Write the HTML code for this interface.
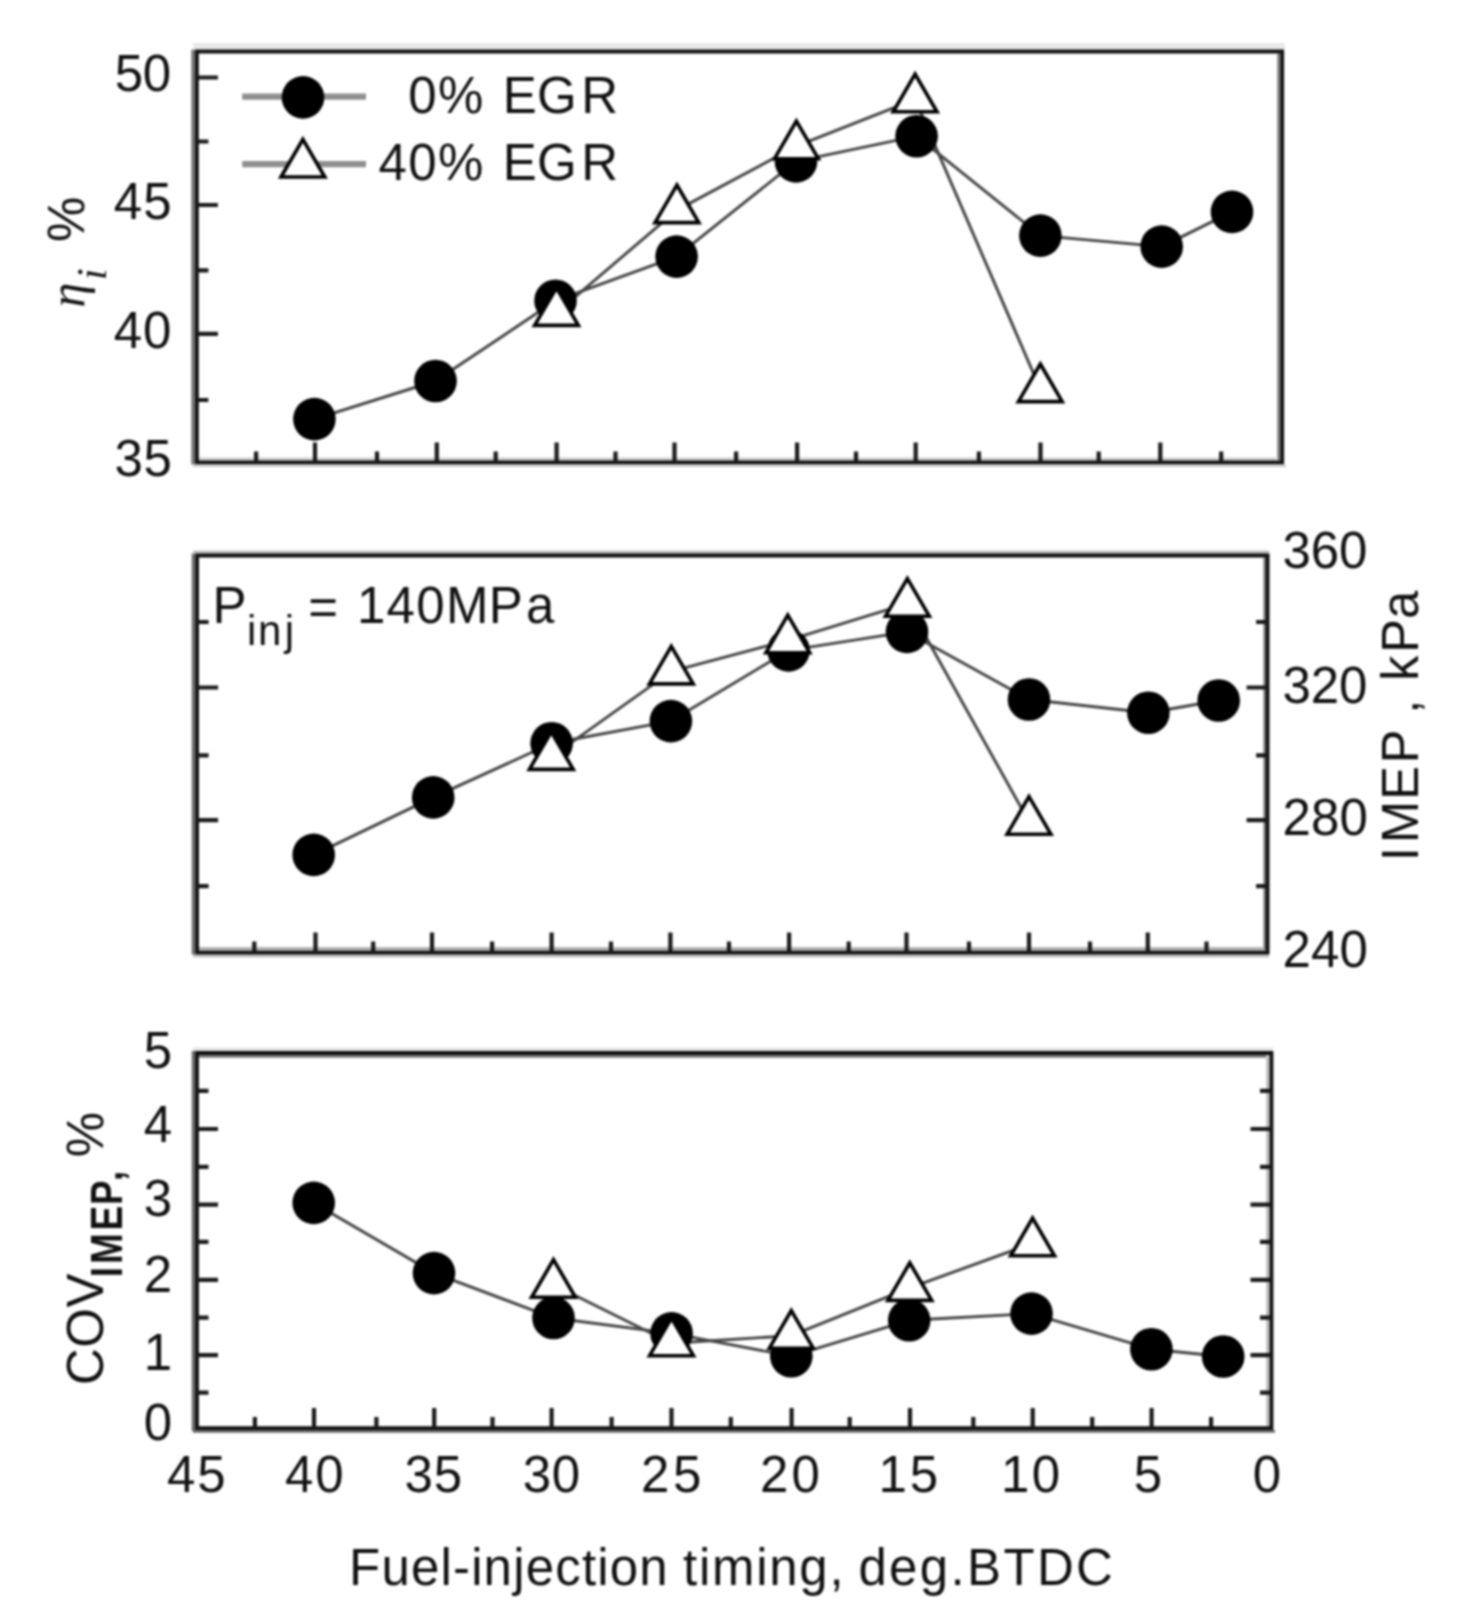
<!DOCTYPE html>
<html><head><meta charset="utf-8"><style>
html,body{margin:0;padding:0;background:#fff;width:1472px;height:1621px;overflow:hidden;}
svg{display:block;}
#w{filter:blur(0.8px);will-change:transform;width:1472px;height:1621px;}
text{fill:#111;}
</style></head><body>
<div id="w"><svg width="1472" height="1621" viewBox="0 0 1472 1621">
<rect x="0" y="0" width="1472" height="1621" fill="#fff"/>
<rect x="191.4" y="49.6" width="3.4" height="415" fill="#6a6a6a"/>
<rect x="1277.3" y="53.4" width="3.0" height="407" fill="#7a7a7a"/>
<rect x="193" y="43" width="1092" height="6.6" fill="#e8e8e8"/>
<rect x="199" y="457.5" width="1077" height="3" fill="#cfcfcf"/>
<rect x="193" y="464.3" width="1093" height="2.8" fill="#cfcfcf"/>
<path d="M196.9,51.5 H1282.2 V462.4 H196.9 Z" fill="none" stroke="#111" stroke-width="3.8"/>
<path d="M315.0,462.4 V442.4 M436.8,462.4 V442.4 M556.6,462.4 V442.4 M674.5,462.4 V442.4 M797.1,462.4 V442.4 M915.7,462.4 V442.4 M1040.5,462.4 V442.4 M1160.3,462.4 V442.4 M256.1,462.4 V451.4 M377.0,462.4 V451.4 M495.7,462.4 V451.4 M615.5,462.4 V451.4 M736.1,462.4 V451.4 M856.0,462.4 V451.4 M978.9,462.4 V451.4 M1098.7,462.4 V451.4 M1221.2,462.4 V451.4 M196.9,77.5 H217.9 M196.9,205 H217.9 M196.9,333.9 H217.9 M196.9,141.5 H208.4 M196.9,270.4 H208.4 M196.9,400 H208.4" stroke="#1a1a1a" stroke-width="4.2" fill="none"/>
<rect x="191.7" y="553.6" width="3.5" height="401" fill="#6a6a6a"/>
<rect x="1263.4" y="557.4" width="2.6" height="393" fill="#7a7a7a"/>
<rect x="193" y="550.6" width="1076" height="3.2" fill="#bdbdbd"/>
<rect x="199" y="947.1" width="1064" height="3.6" fill="#b0b0b0"/>
<rect x="193" y="954.4" width="1076" height="3" fill="#c0c0c0"/>
<path d="M197.1,555.5 H1267.6 V952.6 H197.1 Z" fill="none" stroke="#111" stroke-width="3.8"/>
<path d="M315.5,952.6 V932.6 M432,952.6 V932.6 M551.6,952.6 V932.6 M670.4,952.6 V932.6 M789.1,952.6 V932.6 M906.5,952.6 V932.6 M1029,952.6 V932.6 M1147.8,952.6 V932.6 M254.3,952.6 V941.6 M373.2,952.6 V941.6 M492.1,952.6 V941.6 M611,952.6 V941.6 M729,952.6 V941.6 M848.7,952.6 V941.6 M969,952.6 V941.6 M1090,952.6 V941.6 M1206.5,952.6 V941.6 M197.1,687.5 H218.1 M197.1,820.2 H218.1 M197.1,622 H208.6 M197.1,755.4 H208.6 M197.1,886.2 H208.6 M1267.6,687.5 H1246.6 M1267.6,820.2 H1246.6 M1267.6,622 H1256.1 M1267.6,755.4 H1256.1 M1267.6,886.2 H1256.1" stroke="#1a1a1a" stroke-width="4.2" fill="none"/>
<rect x="191.7" y="1051" width="3.5" height="380" fill="#6a6a6a"/>
<rect x="1266.2" y="1055" width="3.6" height="371" fill="#bdbdbd"/>
<rect x="193" y="1047.3" width="1080" height="3.8" fill="#e6e6e6"/>
<rect x="199" y="1055" width="1067" height="2.8" fill="#7a7a7a"/>
<rect x="193" y="1430" width="1082" height="2.8" fill="#6a6a6a"/>
<path d="M197.0,1053.0 H1271.5 V1428.1 H197.0 Z" fill="none" stroke="#111" stroke-width="3.8"/>
<path d="M314,1428.1 V1408.1 M434.2,1428.1 V1408.1 M551.6,1428.1 V1408.1 M671.5,1428.1 V1408.1 M791.6,1428.1 V1408.1 M910,1428.1 V1408.1 M1032.7,1428.1 V1408.1 M1151.6,1428.1 V1408.1 M254.9,1428.1 V1417.1 M376.4,1428.1 V1417.1 M492.5,1428.1 V1417.1 M611.6,1428.1 V1417.1 M730.8,1428.1 V1417.1 M849.7,1428.1 V1417.1 M973.3,1428.1 V1417.1 M1092.2,1428.1 V1417.1 M1211.1,1428.1 V1417.1 M197.0,1129 H218.0 M197.0,1204.7 H218.0 M197.0,1279.8 H218.0 M197.0,1355.2 H218.0 M197.0,1090.8 H208.5 M197.0,1166.8 H208.5 M197.0,1241.8 H208.5 M197.0,1317.6 H208.5 M197.0,1392.6 H208.5 M1271.5,1129 H1250.5 M1271.5,1204.7 H1250.5 M1271.5,1279.8 H1250.5 M1271.5,1355.2 H1250.5 M1271.5,1090.8 H1260.0 M1271.5,1166.8 H1260.0 M1271.5,1241.8 H1260.0 M1271.5,1317.6 H1260.0 M1271.5,1392.6 H1260.0" stroke="#1a1a1a" stroke-width="4.2" fill="none"/>
<polyline points="314.4,419.1 435.5,381 555.5,300.7 676.6,256.6 796,161.4 916.6,136.2 1040.4,235.6 1161.7,246.6 1232,211.9" fill="none" stroke="#444" stroke-width="2.9" stroke-linejoin="round"/>
<polyline points="556.5,312.9 676.9,210.1 796.4,146.2 915.1,99.3 1040.3,389.1" fill="none" stroke="#444" stroke-width="2.9" stroke-linejoin="round"/>
<circle cx="314.4" cy="419.1" r="21.3" fill="#000"/>
<circle cx="435.5" cy="381" r="21.3" fill="#000"/>
<circle cx="555.5" cy="300.7" r="21.3" fill="#000"/>
<circle cx="676.6" cy="256.6" r="21.3" fill="#000"/>
<circle cx="796" cy="161.4" r="21.3" fill="#000"/>
<circle cx="916.6" cy="136.2" r="21.3" fill="#000"/>
<circle cx="1040.4" cy="235.6" r="21.3" fill="#000"/>
<circle cx="1161.7" cy="246.6" r="21.3" fill="#000"/>
<circle cx="1232" cy="211.9" r="21.3" fill="#000"/>
<path d="M556.5,287.80 L578.40,325.40 L534.60,325.40 Z" fill="#fff" stroke="#000" stroke-width="3.6" stroke-linejoin="miter"/>
<path d="M676.9,185.00 L698.80,222.60 L655.00,222.60 Z" fill="#fff" stroke="#000" stroke-width="3.6" stroke-linejoin="miter"/>
<path d="M796.4,121.10 L818.30,158.70 L774.50,158.70 Z" fill="#fff" stroke="#000" stroke-width="3.6" stroke-linejoin="miter"/>
<path d="M915.1,74.20 L937.00,111.80 L893.20,111.80 Z" fill="#fff" stroke="#000" stroke-width="3.6" stroke-linejoin="miter"/>
<path d="M1040.3,364.00 L1062.20,401.60 L1018.40,401.60 Z" fill="#fff" stroke="#000" stroke-width="3.6" stroke-linejoin="miter"/>
<polyline points="313.7,854.9 433.2,797.4 551.6,743.3 670.9,721.1 788.5,650.4 907,631.9 1029,699.5 1148.4,712.8 1218.7,700.5" fill="none" stroke="#444" stroke-width="2.9" stroke-linejoin="round"/>
<polyline points="551.3,756.9 671.3,671.4 787.8,640.3 907.4,603.7 1029.0,821.7" fill="none" stroke="#444" stroke-width="2.9" stroke-linejoin="round"/>
<circle cx="313.7" cy="854.9" r="21.3" fill="#000"/>
<circle cx="433.2" cy="797.4" r="21.3" fill="#000"/>
<circle cx="551.6" cy="743.3" r="21.3" fill="#000"/>
<circle cx="670.9" cy="721.1" r="21.3" fill="#000"/>
<circle cx="788.5" cy="650.4" r="21.3" fill="#000"/>
<circle cx="907" cy="631.9" r="21.3" fill="#000"/>
<circle cx="1029" cy="699.5" r="21.3" fill="#000"/>
<circle cx="1148.4" cy="712.8" r="21.3" fill="#000"/>
<circle cx="1218.7" cy="700.5" r="21.3" fill="#000"/>
<path d="M551.3,731.80 L573.20,769.40 L529.40,769.40 Z" fill="#fff" stroke="#000" stroke-width="3.6" stroke-linejoin="miter"/>
<path d="M671.3,646.30 L693.20,683.90 L649.40,683.90 Z" fill="#fff" stroke="#000" stroke-width="3.6" stroke-linejoin="miter"/>
<path d="M787.8,615.20 L809.70,652.80 L765.90,652.80 Z" fill="#fff" stroke="#000" stroke-width="3.6" stroke-linejoin="miter"/>
<path d="M907.4,578.60 L929.30,616.20 L885.50,616.20 Z" fill="#fff" stroke="#000" stroke-width="3.6" stroke-linejoin="miter"/>
<path d="M1029,796.60 L1050.90,834.20 L1007.10,834.20 Z" fill="#fff" stroke="#000" stroke-width="3.6" stroke-linejoin="miter"/>
<polyline points="313.7,1202.9 434,1273.1 553.5,1318 671.6,1333.4 791.3,1356.2 909.2,1320.3 1031.5,1313.6 1151.4,1349.2 1223.2,1356.5" fill="none" stroke="#444" stroke-width="2.9" stroke-linejoin="round"/>
<polyline points="553.5,1284.8 671.5,1343.2 791.3,1335.7 909.8,1287.9 1032.6,1243.3" fill="none" stroke="#444" stroke-width="2.9" stroke-linejoin="round"/>
<circle cx="313.7" cy="1202.9" r="21.3" fill="#000"/>
<circle cx="434" cy="1273.1" r="21.3" fill="#000"/>
<circle cx="553.5" cy="1318" r="21.3" fill="#000"/>
<circle cx="671.6" cy="1333.4" r="21.3" fill="#000"/>
<circle cx="791.3" cy="1356.2" r="21.3" fill="#000"/>
<circle cx="909.2" cy="1320.3" r="21.3" fill="#000"/>
<circle cx="1031.5" cy="1313.6" r="21.3" fill="#000"/>
<circle cx="1151.4" cy="1349.2" r="21.3" fill="#000"/>
<circle cx="1223.2" cy="1356.5" r="21.3" fill="#000"/>
<path d="M553.5,1259.70 L575.40,1297.30 L531.60,1297.30 Z" fill="#fff" stroke="#000" stroke-width="3.6" stroke-linejoin="miter"/>
<path d="M671.5,1318.10 L693.40,1355.70 L649.60,1355.70 Z" fill="#fff" stroke="#000" stroke-width="3.6" stroke-linejoin="miter"/>
<path d="M791.3,1310.60 L813.20,1348.20 L769.40,1348.20 Z" fill="#fff" stroke="#000" stroke-width="3.6" stroke-linejoin="miter"/>
<path d="M909.8,1262.80 L931.70,1300.40 L887.90,1300.40 Z" fill="#fff" stroke="#000" stroke-width="3.6" stroke-linejoin="miter"/>
<path d="M1032.6,1218.20 L1054.50,1255.80 L1010.70,1255.80 Z" fill="#fff" stroke="#000" stroke-width="3.6" stroke-linejoin="miter"/>
<path d="M242.2,96.6 H366 M242.2,164.1 H366" stroke="#8f8f8f" stroke-width="6.4" fill="none"/>
<circle cx="303" cy="97.4" r="21.3" fill="#000"/>
<path d="M302.9,139.40 L324.80,177.00 L281.00,177.00 Z" fill="#fff" stroke="#000" stroke-width="3.6" stroke-linejoin="miter"/>
<text x="408.3 438.0 483.3 502.7 537.0 581.3" y="113.0" font-family='"Liberation Sans"' font-size="51" font-weight="normal" font-style="normal" >0% EGR</text>
<text x="378.5 408.3 438.0 483.3 502.7 537.0 581.3" y="180.0" font-family='"Liberation Sans"' font-size="51" font-weight="normal" font-style="normal" >40% EGR</text>
<text x="114.8 142.8" y="90.5" font-family='"Liberation Sans"' font-size="51" font-weight="normal" font-style="normal" >50</text>
<text x="113.8 143.3" y="219.0" font-family='"Liberation Sans"' font-size="51" font-weight="normal" font-style="normal" >45</text>
<text x="113.8 143.1" y="347.5" font-family='"Liberation Sans"' font-size="51" font-weight="normal" font-style="normal" >40</text>
<text x="114.6 143.6" y="475.5" font-family='"Liberation Sans"' font-size="51" font-weight="normal" font-style="normal" >35</text>
<text x="1282.6 1310.8 1339.1" y="567.5" font-family='"Liberation Sans"' font-size="51" font-weight="normal" font-style="normal" >360</text>
<text x="1282.6 1310.8 1339.1" y="702.5" font-family='"Liberation Sans"' font-size="51" font-weight="normal" font-style="normal" >320</text>
<text x="1282.4 1311.0 1339.6" y="834.5" font-family='"Liberation Sans"' font-size="51" font-weight="normal" font-style="normal" >280</text>
<text x="1282.4 1311.0 1339.6" y="967.0" font-family='"Liberation Sans"' font-size="51" font-weight="normal" font-style="normal" >240</text>
<text x="172" y="1067.5" text-anchor="end" font-family='"Liberation Sans"' font-size="51">5</text>
<text x="172" y="1142" text-anchor="end" font-family='"Liberation Sans"' font-size="51">4</text>
<text x="172" y="1216" text-anchor="end" font-family='"Liberation Sans"' font-size="51">3</text>
<text x="172" y="1292" text-anchor="end" font-family='"Liberation Sans"' font-size="51">2</text>
<text x="172" y="1370" text-anchor="end" font-family='"Liberation Sans"' font-size="51">1</text>
<text x="172" y="1440" text-anchor="end" font-family='"Liberation Sans"' font-size="51">0</text>
<text x="166.9 197.3" y="1492.0" font-family='"Liberation Sans"' font-size="51" font-weight="normal" font-style="normal" >45</text>
<text x="285.1 315.3" y="1492.0" font-family='"Liberation Sans"' font-size="51" font-weight="normal" font-style="normal" >40</text>
<text x="404.6 433.7" y="1492.0" font-family='"Liberation Sans"' font-size="51" font-weight="normal" font-style="normal" >35</text>
<text x="522.8 551.8" y="1492.0" font-family='"Liberation Sans"' font-size="51" font-weight="normal" font-style="normal" >30</text>
<text x="641.0 672.9" y="1492.0" font-family='"Liberation Sans"' font-size="51" font-weight="normal" font-style="normal" >25</text>
<text x="759.9 791.5" y="1492.0" font-family='"Liberation Sans"' font-size="51" font-weight="normal" font-style="normal" >20</text>
<text x="878.4 909.7" y="1492.0" font-family='"Liberation Sans"' font-size="51" font-weight="normal" font-style="normal" >15</text>
<text x="1001.1 1031.7" y="1492.0" font-family='"Liberation Sans"' font-size="51" font-weight="normal" font-style="normal" >10</text>
<text x="1133.8" y="1492.0" font-family='"Liberation Sans"' font-size="51" font-weight="normal" font-style="normal" >5</text>
<text x="1252.7" y="1492.0" font-family='"Liberation Sans"' font-size="51" font-weight="normal" font-style="normal" >0</text>
<text x="349.1 381.4 411.0 440.5 453.0 471.2 483.6 513.2 525.7 555.2 581.9 597.2 609.7 639.2" y="1584.5" font-family='"Liberation Sans"' font-size="51" font-weight="normal" font-style="normal" >Fuel-injection</text>
<text x="683.1 699.0 712.0 756.2 769.3 799.3 829.4" y="1584.5" font-family='"Liberation Sans"' font-size="51" font-weight="normal" font-style="normal" >timing,</text>
<text x="858.4 889.1 919.8 950.5 967.0 1003.4 1036.9 1076.1" y="1584.5" font-family='"Liberation Sans"' font-size="51" font-weight="normal" font-style="normal" >deg.BTDC</text>
<text x="212.6" y="622.5" font-family='"Liberation Sans"' font-size="51" font-weight="normal" font-style="normal" >P</text>
<text x="247.0 258.0 284.8" y="644.5" font-family='"Liberation Sans"' font-size="42" font-weight="normal" font-style="normal" >inj</text>
<text x="308.3" y="625.0" font-family='"Liberation Sans"' font-size="51" font-weight="normal" font-style="normal" >=</text>
<text x="356.9 386.6 416.3 446.0 488.8 526.1" y="622.5" font-family='"Liberation Sans"' font-size="51" font-weight="normal" font-style="normal" >140MPa</text>
<g transform="translate(1418.3,860) rotate(-90)">
<text x="-1.2 16.8 60.0 96.6 130.6 146.2 160.4 179.0 207.1 241.0" y="0.0" font-family='"Liberation Sans"' font-size="51" font-weight="normal" font-style="normal" >IMEP , kPa</text>
</g>
<g transform="translate(103,1390) rotate(-90)">
<text x="5.0 42.2 82.5" y="0.0" font-family='"Liberation Sans"' font-size="51" font-weight="normal" font-style="normal" >COV</text>
<g transform="scale(0.84,1)">
<text x="134.2 149.9 189.8 220.3 248.8" y="19.0" font-family='"Liberation Sans"' font-size="44" font-weight="bold" font-style="normal" >IMEP,</text>
</g>
<text x="232.8" y="0.0" font-family='"Liberation Sans"' font-size="51" font-weight="normal" font-style="normal" >%</text>
</g>
<g transform="translate(84,310) rotate(-90)">
<text x="2.5" y="0.0" font-family='"Liberation Serif"' font-size="50" font-weight="normal" font-style="italic" >η</text>
<text x="29.8" y="22.0" font-family='"Liberation Serif"' font-size="43" font-weight="normal" font-style="italic" >i</text>
<text x="68.0" y="0.0" font-family='"Liberation Sans"' font-size="51" font-weight="normal" font-style="normal" >%</text>
</g>
</svg>
</div></body></html>
